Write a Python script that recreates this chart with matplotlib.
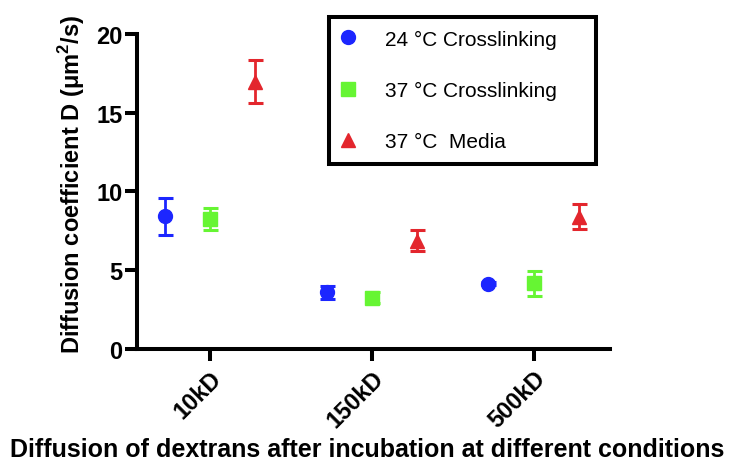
import numpy as np
import matplotlib
matplotlib.use('Agg')
import matplotlib.pyplot as plt

plt.rcParams['font.family'] = ['Liberation Sans', 'DejaVu Sans']
plt.rcParams['mathtext.fontset'] = 'custom'
plt.rcParams['mathtext.rm'] = 'Liberation Sans:bold'
plt.rcParams['mathtext.bf'] = 'Liberation Sans:bold'

# dextran sizes and measured diffusion coefficients (mean, error)
categories = ['10kD', '150kD', '500kD']

d_24_cross = [8.42, 3.60, 4.15]
e_24_cross = [1.16, 0.43, 0.08]

d_37_cross = [8.23, 3.25, 4.16]
e_37_cross = [0.70, 0.35, 0.81]

d_37_media = [16.98, 6.88, 8.41]
e_37_media = [1.39, 0.68, 0.79]

series_labels = ['24 °C Crosslinking', '37 °C Crosslinking', '37 °C  Media']
colors = ['#1c26ff', '#66f533', '#e3262d']
markers = ['o', 's', '^']
offsets = [-0.28, 0.0, 0.28]

fig = plt.figure(figsize=(7.35, 4.64), dpi=100)
ax = fig.add_axes([0.1864, 0.2457, 0.6435, 0.6789])

x = np.arange(len(categories))
all_d = [d_24_cross, d_37_cross, d_37_media]
all_e = [e_24_cross, e_37_cross, e_37_media]

for d, e, lab, col, mk, off in zip(all_d, all_e, series_labels, colors, markers, offsets):
    ax.errorbar(x + off, d, yerr=e, fmt='none', ecolor=col, elinewidth=2.0,
                capsize=5.4, capthick=2.2, zorder=2)
    ax.plot(x + off, d, linestyle='none', marker=mk, markersize=10,
            color=col, label=lab, zorder=3)

ax.set_xlim(-0.45, 2.47)
ax.set_ylim(0, 20)
ax.set_yticks([0, 5, 10, 15, 20])
ax.set_xticks(x)
ax.set_xticklabels(categories, rotation=45, ha='right', rotation_mode='anchor',
                   fontsize=17, fontweight='bold')
for t in ax.get_yticklabels():
    t.set_fontsize(17)
    t.set_fontweight('bold')

for side in ['top', 'right']:
    ax.spines[side].set_visible(False)
for side in ['left', 'bottom']:
    ax.spines[side].set_linewidth(2.9)
ax.tick_params(axis='both', direction='out', length=8.6, width=2.9, pad=2)
ax.tick_params(axis='x', pad=4)

ax.set_ylabel('Diffusion coefficient D (μm$^2$/s)', fontsize=17, fontweight='bold')
ax.yaxis.set_label_coords(-0.106, 0.527)
ax.set_xlabel('Diffusion of dextrans after incubation at different conditions',
              fontsize=18, fontweight='bold')
ax.xaxis.set_label_coords(0.486, -0.279)

leg = ax.legend(loc='upper left', bbox_to_anchor=(0.406, 1.054, 0.565, 0.0),
                mode='expand', fontsize=15, frameon=True, fancybox=False,
                framealpha=1, edgecolor='black', borderpad=0.6, labelspacing=1.55,
                handlelength=0.6, handletextpad=1.5, borderaxespad=0)
leg.get_frame().set_linewidth(2.9)

fig.savefig('out.png', dpi=100)
